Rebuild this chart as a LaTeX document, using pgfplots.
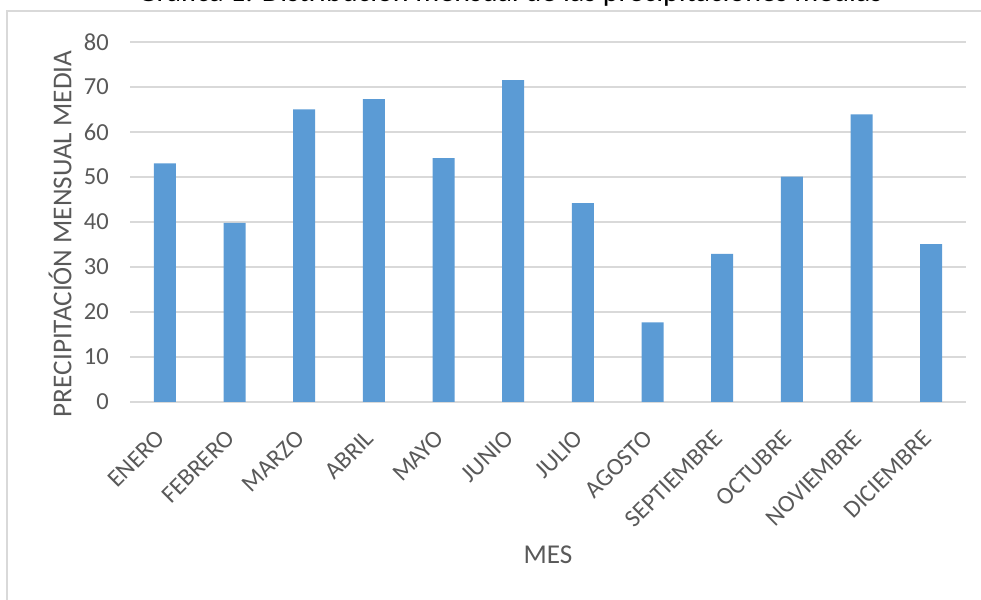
\documentclass[border=0pt]{standalone}
\usepackage{pgfplots}
\pgfplotsset{compat=1.18}
\usepackage{fontspec}
\setmainfont{Carlito}
\definecolor{barblue}{HTML}{5B9BD5}
\definecolor{txtgray}{HTML}{595959}
\definecolor{gridgray}{HTML}{D9D9D9}
\begin{document}
\begin{tikzpicture}
\useasboundingbox (0pt,0pt) rectangle (981pt,599pt);
\clip (0pt,0pt) rectangle (981pt,599pt);
\draw[gridgray, line width=2pt] (7pt,-10pt) -- (7pt,588pt) -- (1000pt,588pt);
\node[anchor=base, font=\fontsize{30}{34}\selectfont, text=black, inner sep=0pt] at (510pt,597.5pt) {Gráfica 1. Distribución mensual de las precipitaciones medias};
\begin{axis}[
  at={(130pt,197pt)}, anchor=south west,
  scale only axis, width=836pt, height=360pt,
  xmin=-0.5, xmax=11.5, ymin=0, ymax=80,
  ybar, bar width=22pt,
  ytick={0,10,...,80},
  xtick={0,...,11},
  xticklabels={ENERO,FEBRERO,MARZO,ABRIL,MAYO,JUNIO,JULIO,AGOSTO,SEPTIEMBRE,OCTUBRE,NOVIEMBRE,DICIEMBRE},
  ymajorgrids,
  major grid style={gridgray, line width=1.3pt},
  axis line style={draw=none},
  tick style={draw=none},
  /pgf/number format/assume math mode=true,
  ticklabel style={font=\fontsize{24.5}{28}\selectfont, text=txtgray},
  yticklabel style={anchor=east, inner sep=0pt, xshift=-21pt},
  xticklabel style={xshift=-4pt, yshift=-28pt, rotate=45, anchor=east, inner sep=0pt},
  xlabel={MES}, ylabel={PRECIPITACIÓN MENSUAL MEDIA},
  label style={font=\fontsize{27.2}{31}\selectfont, text=txtgray},
  xlabel style={at={(axis description cs:0.5,-0.425)}, anchor=center},
  ylabel style={at={(axis description cs:-0.0837,0.467)}, anchor=center},
]
\addplot[fill=barblue, draw=none] coordinates {
(0,53.0) (1,39.8) (2,65.0) (3,67.3) (4,54.2) (5,71.5)
(6,44.2) (7,17.7) (8,32.9) (9,50.1) (10,63.9) (11,35.1)};
\end{axis}
\end{tikzpicture}
\end{document}
